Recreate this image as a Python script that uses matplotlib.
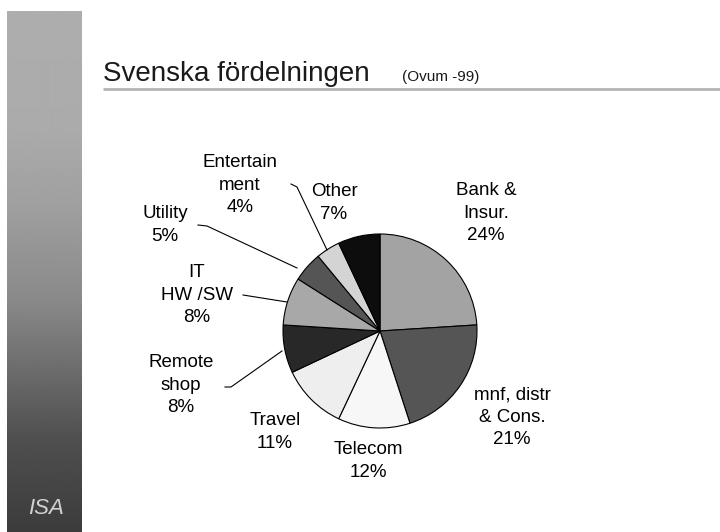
import numpy as np
import matplotlib
matplotlib.use("Agg")
import matplotlib.pyplot as plt

# ---- data ----
categories = ["Bank &\nInsur.", "mnf, distr\n& Cons.", "Telecom", "Travel",
              "Remote\nshop", "IT\nHW /SW", "Utility", "Entertain\nment", "Other"]
shares = [24, 21, 12, 11, 8, 8, 5, 4, 7]
slice_colors = ["#a3a3a3", "#555555", "#f7f7f7", "#eeeeee", "#282828",
                "#a8a8a8", "#555555", "#d4d4d4", "#0d0d0d"]
title_main = "Svenska fördelningen"
title_sub = "(Ovum -99)"

# ---- layout (pixel coords, y measured from top) ----
W, H = 720, 532
FONT = "Liberation Sans"
pie_center = (380, 331)
pie_radius = 97
label_pos = [(486, 213), (512, 417), (368, 461), (275, 432),
             (181, 385), (197, 295), (165, 225), (240, 185), (334, 203)]
leaders = {
    4: [(225, 387), (231, 387), (282, 351)],
    5: [(243, 295), (287, 302)],
    6: [(198, 225), (207, 226), (297, 268)],
    7: [(291, 184), (297, 187), (327, 250)],
}

def Y(y):
    return H - y

fig = plt.figure(figsize=(W / 100, H / 100), dpi=100)
fig.patch.set_facecolor("white")
ax = fig.add_axes([0, 0, 1, 1])

# left gradient bar
ys = np.arange(11, H)
levels = np.interp(ys, [11, 130, 200, 300, 373, 440, 532],
                   [0.68, 0.67, 0.63, 0.54, 0.42, 0.31, 0.235])
grad = np.repeat(levels[:, None], 2, axis=1)
ax.imshow(grad, extent=(7, 82, Y(H), Y(11)), cmap="gray", vmin=0, vmax=1,
          aspect="auto", zorder=0, interpolation="bilinear")
ax.text(46, Y(508), "ISA", fontsize=16, fontstyle="italic", color="#d2d2d2",
        ha="center", va="center", family=FONT)

# title
ax.text(103, Y(81), title_main, fontsize=20, color="#1a1a1a",
        ha="left", va="baseline", family=FONT)
ax.text(402, Y(81), title_sub, fontsize=11, color="#1a1a1a",
        ha="left", va="baseline", family=FONT)
ax.plot([103, W], [Y(89), Y(89)], color="#b4b4b4", lw=2, solid_capstyle="butt")

# pie
ax.pie(shares, colors=slice_colors, startangle=90, counterclock=False,
       center=(pie_center[0], Y(pie_center[1])), radius=pie_radius,
       wedgeprops=dict(edgecolor="black", linewidth=0.8), frame=True)

# labels
for cat, val, (lx, ly) in zip(categories, shares, label_pos):
    ax.text(lx, Y(ly), f"{cat}\n{val}%", fontsize=13.5, ha="center", va="center",
            multialignment="center", linespacing=1.4, color="black", family=FONT)

for idx, pts in leaders.items():
    xs = [p[0] for p in pts]
    yy = [Y(p[1]) for p in pts]
    ax.plot(xs, yy, color="black", lw=0.8)

ax.set_xlim(0, W)
ax.set_ylim(0, H)
ax.set_aspect("auto")
ax.axis("off")

fig.savefig("out.png", dpi=100, facecolor="white")
